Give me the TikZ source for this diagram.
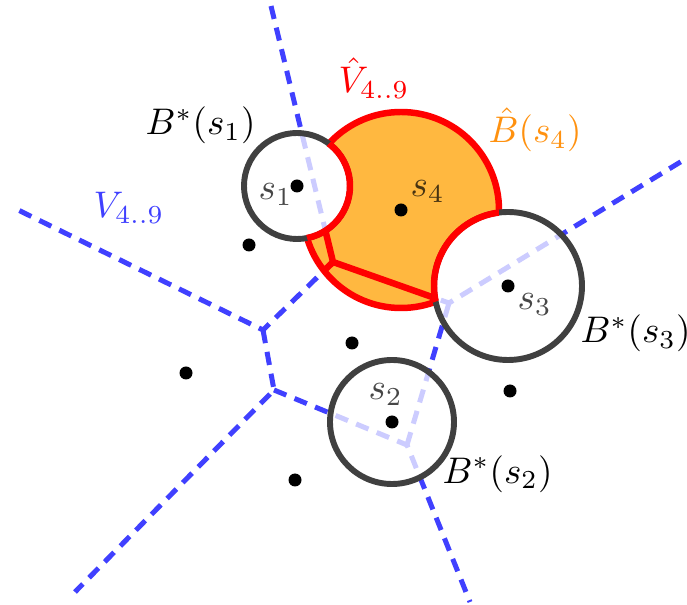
\documentclass[tikz,border=0pt]{standalone}
\usepackage{xcolor}
\definecolor{vblue}{RGB}{64,64,255}
\definecolor{vlight}{RGB}{204,204,255}
\definecolor{hatfill}{RGB}{255,184,64}
\definecolor{hatorange}{RGB}{255,145,15}
\definecolor{ballgray}{RGB}{64,64,64}
\usetikzlibrary{positioning}
% the Voronoi edges, drawn three times
\newcommand{\vedges}{(vtop) -- (vc) -- (v3) -- (vright)
  (vc) -- (vl1) -- (vleft) (vl1) -- (vl2) -- (vbl)
  (vl2) -- (v5) -- (vbot) (v5) -- (v3)}

\begin{document}
\begin{tikzpicture}[x=0.27pt,y=-0.27pt,
  vedge/.style={vblue,line width=1.35pt,dash pattern=on 3.6pt off 2.4pt},
  vedgelight/.style={vedge,vlight},
  hatedge/.style={red,line width=1.75pt,line join=round},
  ball/.style={ballgray,line width=1.6pt},
  sitelbl/.style={anchor=base west,inner sep=0pt,text opacity=0.72},
  lbl/.style={anchor=base west,inner sep=0pt}
]
  \useasboundingbox (0,0) rectangle (687,605);
  % sites
  \coordinate (s1) at (297,186);
  \coordinate (s2) at (392,422);
  \coordinate (s3) at (508,286);
  \coordinate (s4) at (401,210);
  \coordinate (s5) at (249,245);
  \coordinate (s6) at (352,343);
  \coordinate (s7) at (186,373);
  \coordinate (s8) at (510,391);
  \coordinate (s9) at (295,480);
  % Voronoi vertices and free ends
  \coordinate (vc) at (333,262);
  \coordinate (v3) at (449,303);
  \coordinate (vl1) at (263,330);
  \coordinate (vl2) at (274,390);
  \coordinate (v5) at (407,445);
  \coordinate (vtop) at (271,6);
  \coordinate (vright) at (687,158);
  \coordinate (vleft) at (12,207);
  \coordinate (vbl) at (75,592);
  \coordinate (vbot) at (470,602);
  % Voronoi diagram
  \draw[vedge] \vedges;
  % hat region
  \fill[hatfill] (s4) circle (98);
  \draw[hatedge] (s4) circle (98);
  \begin{scope}
    \clip (s4) circle (98);
    \draw[hatedge] \vedges;
  \end{scope}
  % balls
  \fill[white] (s1) circle (53) (s2) circle (62) (s3) circle (74);
  \begin{scope}
    \clip (s1) circle (53) (s2) circle (62) (s3) circle (74);
    \draw[vedgelight] \vedges;
  \end{scope}
  \draw[ball] (s1) circle (53) (s2) circle (62) (s3) circle (74);
  \begin{scope}
    \clip (s4) circle (98);
    \draw[hatedge] (s1) circle (53) (s3) circle (74);
  \end{scope}
  % sites
  \foreach \s in {s1,s2,s3,s4,s5,s6,s7,s8,s9}
    \fill (\s) circle (6.5);
  % labels
  \node[sitelbl] (l1) at (258,200) {$s_1$};
  \node[sitelbl] (l2) at (368,400) {$s_2$};
  \node[sitelbl] (l3) at (517,310) {$s_3$};
  \node[sitelbl] (l4) at (410,197) {$s_4$};
  \node[lbl] (b1) at (145,135) {$B^*(s_1)$};
  \node[lbl] (b2) at (442,483) {$B^*(s_2)$};
  \node[lbl] (b3) at (580,343) {$B^*(s_3)$};
  \node[lbl,hatorange] (b4) at (488,143) {$\hat{B}(s_4)$};
  \node[lbl,red] (vhat) at (338,93) {$\hat{V}_{4..9}$};
  \node[lbl,vblue] (vlab) at (93,218) {$V_{4..9}$};
\end{tikzpicture}
\end{document}
